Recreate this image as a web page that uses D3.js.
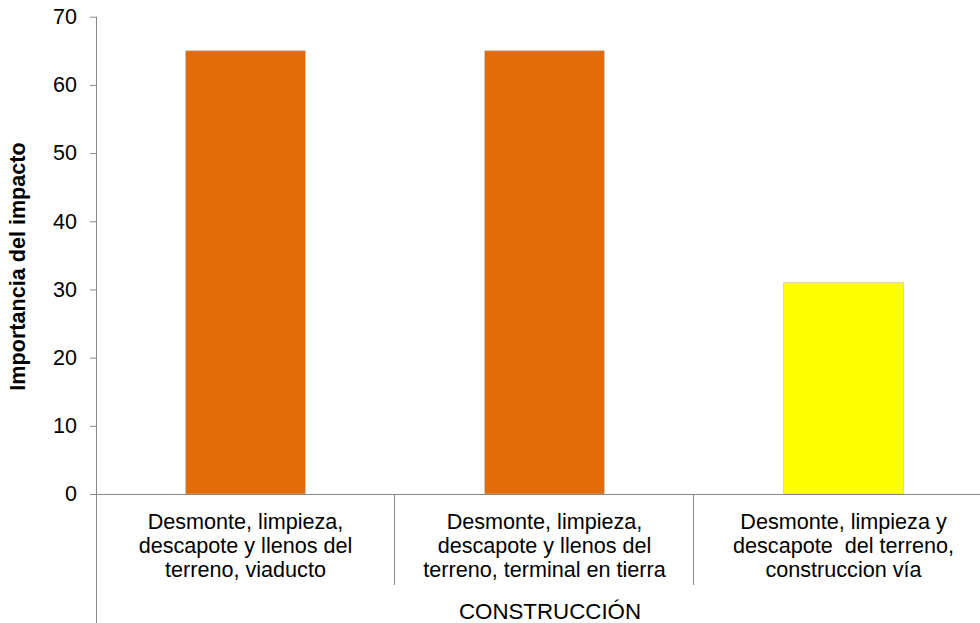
<!DOCTYPE html>
<html>
<head>
<meta charset="utf-8">
<script src="https://cdn.jsdelivr.net/npm/d3@7"></script>
<style>
  html, body { margin: 0; padding: 0; background: #fff; }
  svg { display: block; font-family: Arial, "Liberation Sans", sans-serif; }
</style>
</head>
<body>
<svg id="chart" width="980" height="623"></svg>
<script>
const categories = [
  ["Desmonte, limpieza,", "descapote y llenos del", "terreno, viaducto"],
  ["Desmonte, limpieza,", "descapote y llenos del", "terreno, terminal en tierra"],
  ["Desmonte, limpieza y", "descapote  del terreno,", "construccion vía"]
];
const values = [65, 65, 31];
const barColors = ["#E36C0A", "#E36C0A", "#FFFF00"];
const yTicks = [0, 10, 20, 30, 40, 50, 60, 70];
const groupLabel = "CONSTRUCCIÓN";
const yTitle = "Importancia del impacto";

(function () {
const svg = d3.select("#chart");
const axisColor = "#888888";
const pLeft = 96, pRight = 993, pTop = 16.7, pBottom = 494;

const x = d3.scaleBand().domain(d3.range(categories.length)).range([pLeft, pRight]).padding(0);
const y = d3.scaleLinear().domain([0, 70]).range([pBottom, pTop]);

// bars
svg.append("g").selectAll("rect").data(values).join("rect")
  .attr("x", (d, i) => x(i) + x.bandwidth() * 0.3)
  .attr("width", x.bandwidth() * 0.4)
  .attr("y", d => y(d))
  .attr("height", d => y(0) - y(d))
  .attr("fill", (d, i) => barColors[i])
  .attr("stroke", "#bfbfbf")
  .attr("stroke-width", 0.6);

// y axis
const yAxis = svg.append("g").attr("transform", `translate(${pLeft},0)`)
  .call(d3.axisLeft(y).tickValues(yTicks).tickSize(6).tickPadding(13).tickFormat(d3.format("d")));
yAxis.select(".domain").remove();
yAxis.selectAll(".tick line").attr("stroke", axisColor);
yAxis.selectAll(".tick text").attr("font-size", 21.5).attr("fill", "#000").attr("font-family", "Arial, 'Liberation Sans', sans-serif");

// y axis line (extends down through category area)
svg.append("line").attr("x1", pLeft + 0.5).attr("x2", pLeft + 0.5)
  .attr("y1", y(70)).attr("y2", 623).attr("stroke", axisColor).attr("stroke-width", 1);

// x axis line
svg.append("line").attr("x1", pLeft).attr("x2", 980)
  .attr("y1", y(0) + 0.5).attr("y2", y(0) + 0.5).attr("stroke", axisColor).attr("stroke-width", 1);

// category separators
svg.append("g").selectAll("line").data(d3.range(1, categories.length)).join("line")
  .attr("x1", i => Math.round(x(i)) - 0.5).attr("x2", i => Math.round(x(i)) - 0.5)
  .attr("y1", y(0)).attr("y2", 585)
  .attr("stroke", axisColor).attr("stroke-width", 1);

// category labels
const lab = svg.append("g").selectAll("text").data(categories).join("text")
  .attr("text-anchor", "middle").attr("font-size", 21.6).attr("fill", "#000")
  .style("white-space", "pre");
lab.each(function(lines, i) {
  d3.select(this).selectAll("tspan").data(lines).join("tspan")
    .attr("x", x(i) + x.bandwidth() / 2)
    .attr("y", (d, j) => 528.5 + j * 24)
    .text(d => d);
});

// group label
svg.append("text").attr("x", 550).attr("y", 619).attr("text-anchor", "middle")
  .attr("font-size", 22.3).attr("fill", "#000").text(groupLabel);

// y title
svg.append("text").attr("transform", "translate(25,266.5) rotate(-90)")
  .attr("text-anchor", "middle").attr("font-size", 21.6).attr("font-weight", "bold")
  .attr("fill", "#000").text(yTitle);
})();
</script>
</body>
</html>
